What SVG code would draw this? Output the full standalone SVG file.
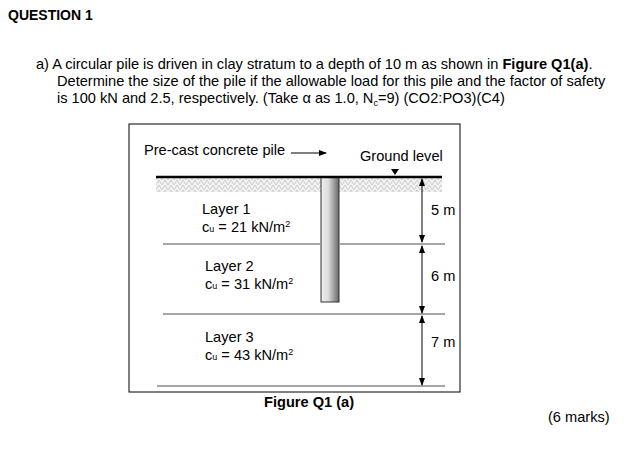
<svg xmlns="http://www.w3.org/2000/svg" width="636" height="450" viewBox="0 0 636 450">
<defs>
<style>
text{font-family:"Liberation Sans",Arial,sans-serif;fill:#000}
.t{font-size:14.6px}
.s{font-size:14.6px}
.g{stroke:#888;stroke-width:1.6}
</style>
<pattern id="h" width="6" height="5" patternUnits="userSpaceOnUse"><rect width="6" height="5" fill="#f2f2f2"/><path d="M0 5L3 0L6 5" fill="none" stroke="#bbb" stroke-width="0.7"/></pattern>
<linearGradient id="p" x1="0" x2="1"><stop offset="0" stop-color="#eee"/><stop offset="0.4" stop-color="#ddd"/><stop offset="1" stop-color="#666"/></linearGradient>
<marker id="a" markerWidth="8" markerHeight="8" refX="7" refY="4" orient="auto-start-reverse" markerUnits="userSpaceOnUse"><path d="M0 1L8 4L0 7z" fill="#000"/></marker>
</defs>
<rect width="636" height="450" fill="#fff"/>
<text x="8" y="20" font-size="14" font-weight="bold">QUESTION 1</text>
<text class="t" x="36" y="69">a)  A circular pile is driven in clay stratum to a depth of 10 m as shown in <tspan font-weight="bold">Figure Q1(a)</tspan>.</text>
<text class="t" x="57" y="86">Determine the size of the pile if the allowable load for this pile and the factor of safety</text>
<text class="t" x="57" y="103">is 100 kN and 2.5, respectively. (Take α as 1.0, N<tspan font-size="9" dy="3">c</tspan><tspan dy="-3">=9) (CO2:PO3)(C4)</tspan></text>
<rect x="129" y="124" width="331" height="268" fill="none" stroke="#000" stroke-width="1"/>
<rect x="156" y="177" width="286" height="15" fill="url(#h)"/>
<g id="pile"><rect x="321" y="177" width="18" height="125" fill="url(#p)" stroke="#333" stroke-width="1"/></g>
<g id="layers">
<line class="g" x1="163" y1="244" x2="320" y2="244"/><line class="g" x1="340" y1="244" x2="445" y2="244"/>
<line class="g" x1="163" y1="314" x2="445" y2="314"/>
<line class="g" x1="157" y1="386" x2="445" y2="386"/>
</g>
<line x1="156" y1="177" x2="442" y2="177" stroke="#000" stroke-width="2.5"/>
<path d="M391 169L399 169L395 175z" fill="#000"/>
<text class="s" x="144" y="155">Pre-cast concrete pile</text>
<text class="s" x="360" y="161">Ground level</text>
<g id="connectors" stroke="#000" stroke-width="1">
<line x1="291" y1="153" x2="326" y2="153" marker-end="url(#a)"/>
<line x1="422" y1="179" x2="422" y2="242" marker-start="url(#a)" marker-end="url(#a)"/>
<line x1="422" y1="246" x2="422" y2="313" marker-start="url(#a)" marker-end="url(#a)"/>
<line x1="422" y1="316" x2="422" y2="385" marker-start="url(#a)" marker-end="url(#a)"/>
</g>
<text class="s" x="431" y="215">5 m</text>
<text class="s" x="431" y="281">6 m</text>
<text class="s" x="431" y="347">7 m</text>
<g id="l1"><text class="s" x="202" y="214">Layer 1</text><text class="s" x="202" y="232">c<tspan font-size="9">u</tspan> = 21 kN/m<tspan font-size="9" dy="-5">2</tspan></text></g>
<g id="l2"><text class="s" x="205" y="271">Layer 2</text><text class="s" x="205" y="289">c<tspan font-size="9">u</tspan> = 31 kN/m<tspan font-size="9" dy="-5">2</tspan></text></g>
<g id="l3"><text class="s" x="205" y="342">Layer 3</text><text class="s" x="205" y="360">c<tspan font-size="9">u</tspan> = 43 kN/m<tspan font-size="9" dy="-5">2</tspan></text></g>
<text x="264" y="407" font-size="14.6" font-weight="bold">Figure Q1 (a)</text>
<text class="t" x="548" y="422">(6 marks)</text>
</svg>
